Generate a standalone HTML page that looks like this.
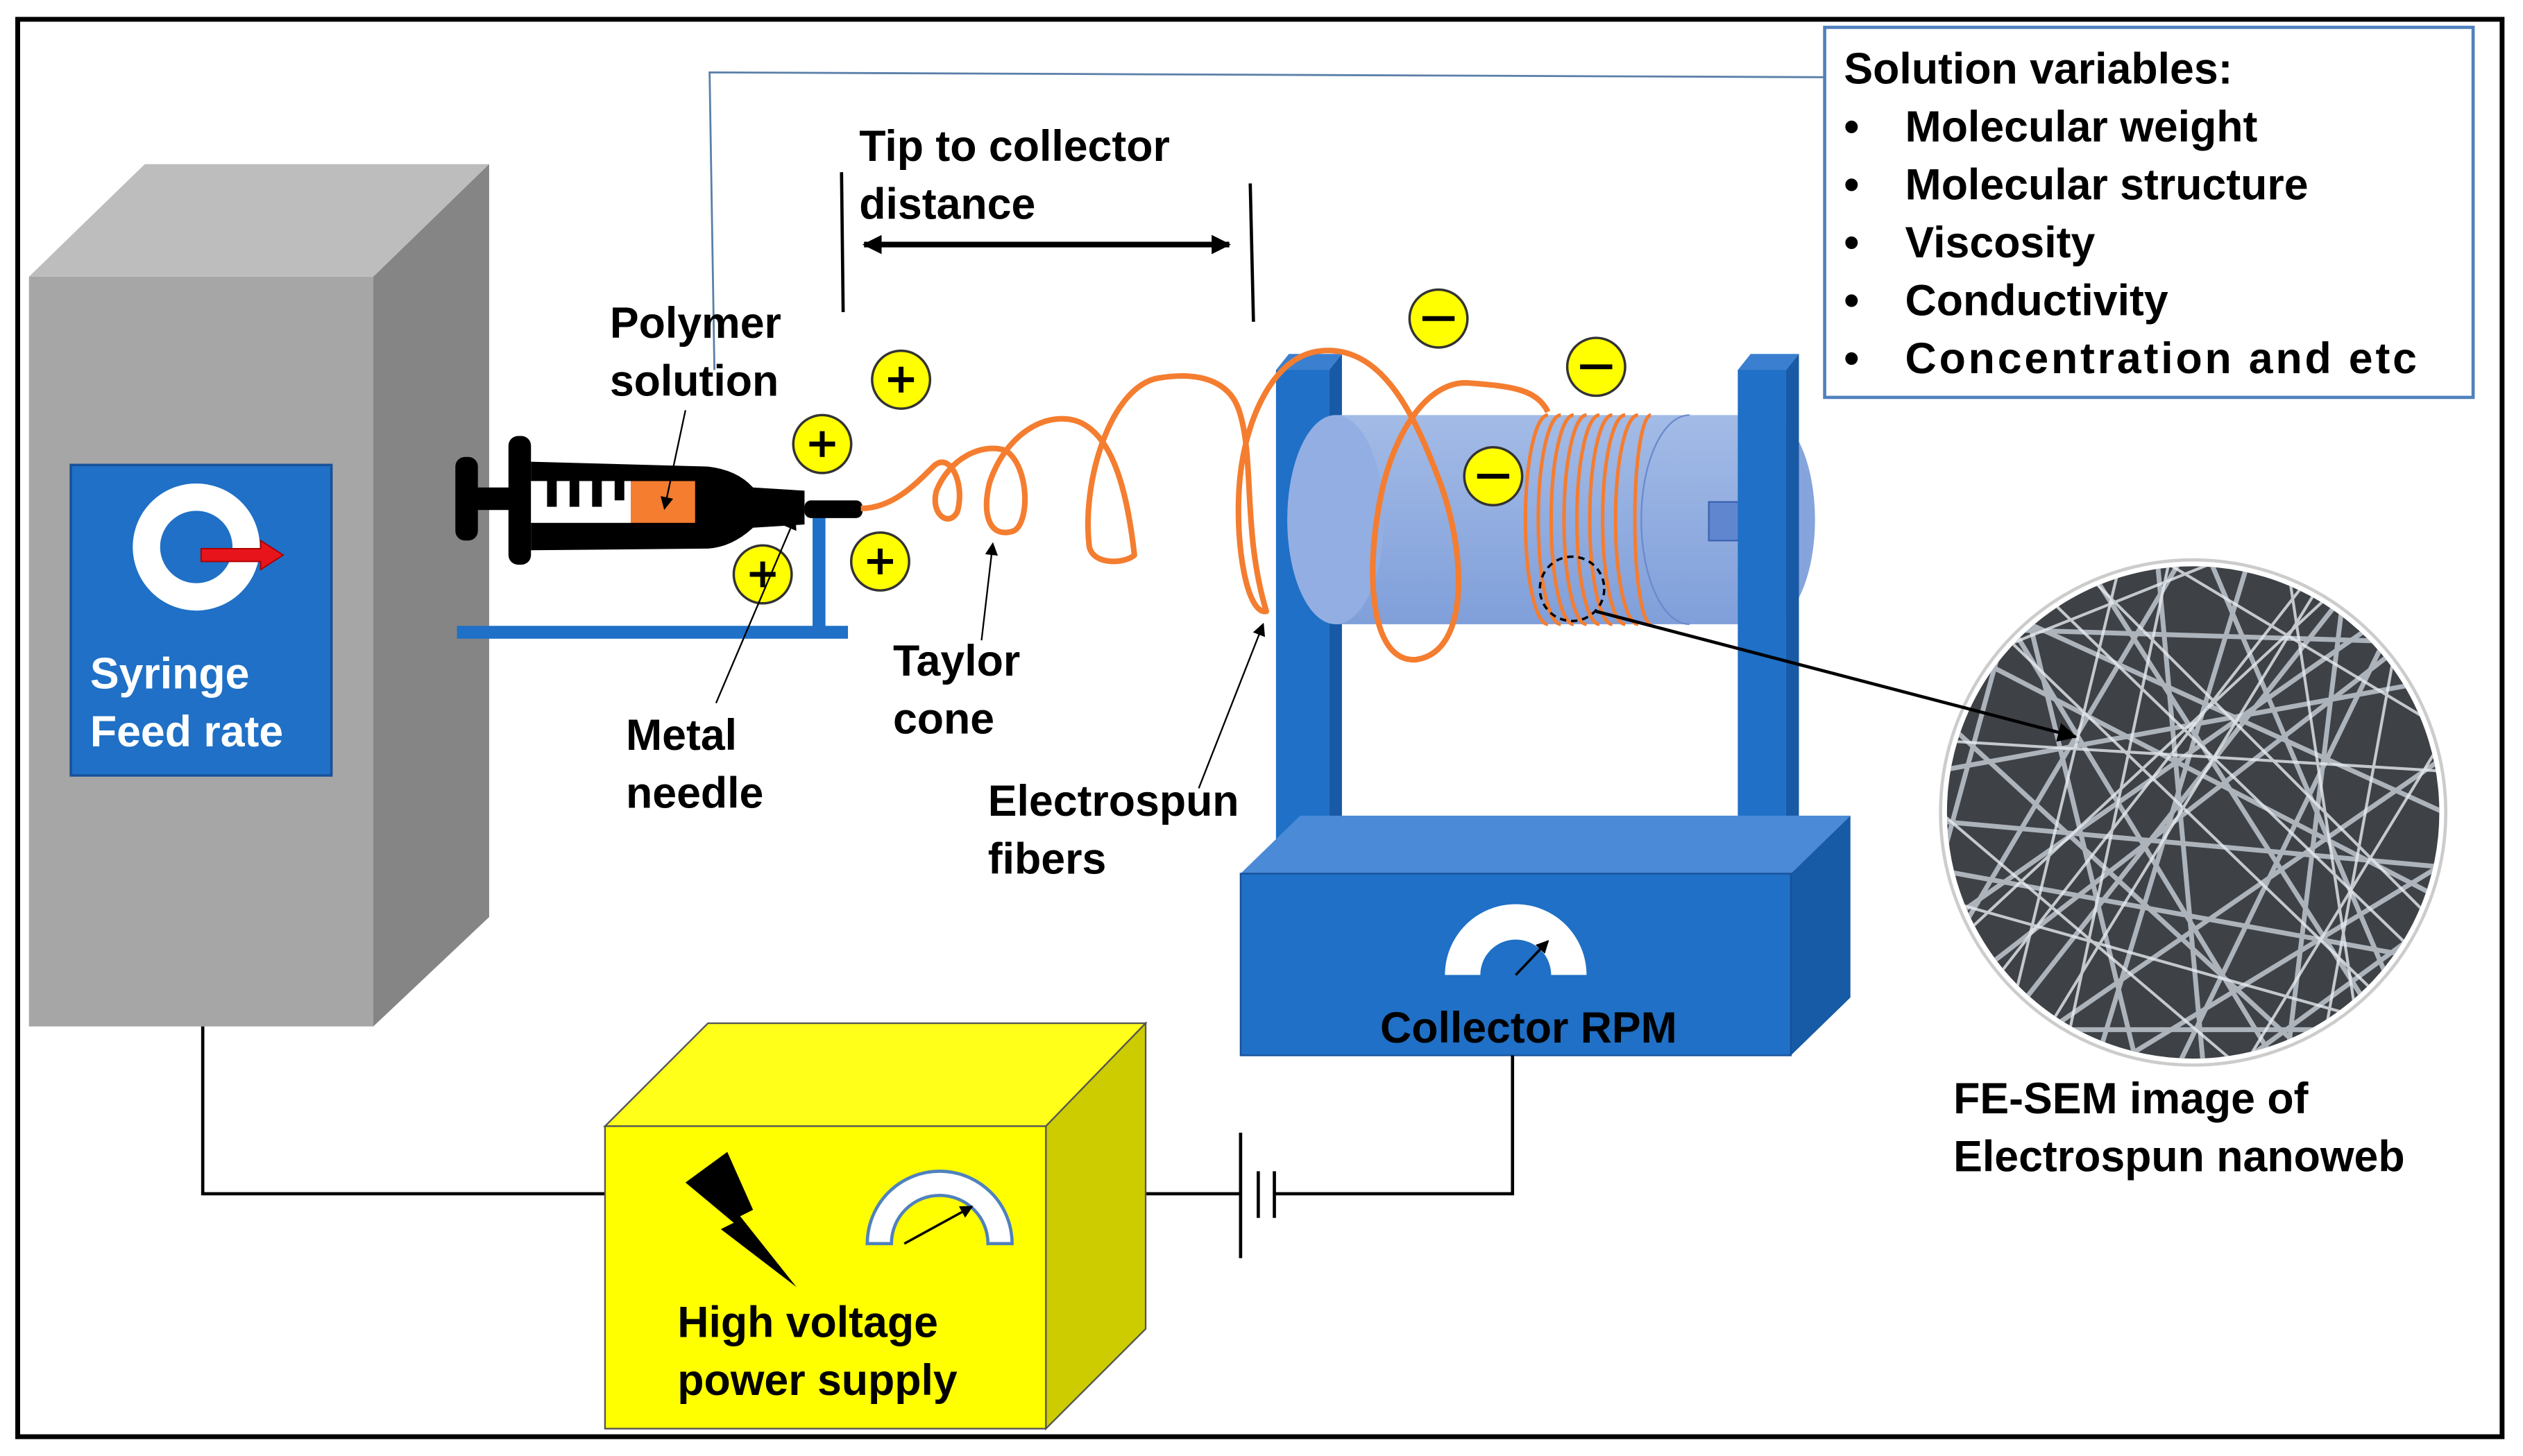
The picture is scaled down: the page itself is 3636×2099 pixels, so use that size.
<!DOCTYPE html>
<html><head><meta charset="utf-8"><style>
html,body{margin:0;padding:0;background:#fff}
svg{display:block}
text{font-family:"Liberation Sans",sans-serif;font-weight:bold}
</style></head><body>
<svg width="3636" height="2099" viewBox="0 0 1568 905" preserveAspectRatio="none" xmlns="http://www.w3.org/2000/svg">
<defs>
<marker id="ah" markerWidth="8" markerHeight="8" refX="7" refY="4" orient="auto" markerUnits="userSpaceOnUse"><path d="M0,0 L8,4 L0,8 Z" fill="#000"/></marker>
<marker id="ah2" markerWidth="12" markerHeight="12" refX="11" refY="6" orient="auto" markerUnits="userSpaceOnUse"><path d="M0,0 L12,6 L0,12 Z" fill="#000"/></marker>
<marker id="ahs" markerWidth="12" markerHeight="12" refX="1" refY="6" orient="auto" markerUnits="userSpaceOnUse"><path d="M12,0 L0,6 L12,12 Z" fill="#000"/></marker>
<clipPath id="sem"><circle cx="1363" cy="505" r="153"/></clipPath>
<linearGradient id="cyl" x1="0" y1="0" x2="0" y2="1"><stop offset="0" stop-color="#a3bbe6"/><stop offset="1" stop-color="#809fda"/></linearGradient>
</defs>
<rect x="11" y="12" width="1544" height="881" fill="#fff" stroke="#000" stroke-width="3"/>

<polyline points="444,230 441,45 1135,48" fill="none" stroke="#5a7fa8" stroke-width="1.2"/>

<!-- gray box -->
<polygon points="18,172 90,102 304,102 232,172" fill="#bdbdbd"/>
<polygon points="232,172 304,102 304,570 232,638" fill="#858585"/>
<rect x="18" y="172" width="214" height="466" fill="#a6a6a6"/>
<rect x="44" y="289" width="162" height="193" fill="#1f70c6" stroke="#17519a" stroke-width="1.5"/>
<circle cx="122" cy="340" r="31" fill="none" stroke="#fff" stroke-width="17"/>
<polygon points="125,341 162,341 162,336 176,345 162,354 162,349 125,349" fill="#e8141c" stroke="#a00" stroke-width="0.8"/>
<text x="56" y="428" font-size="27" fill="#fff">Syringe</text>
<text x="56" y="464" font-size="27" fill="#fff">Feed rate</text>

<!-- solution box -->
<rect x="1134" y="17" width="403" height="230" fill="#fff" stroke="#4f81bd" stroke-width="2"/>
<g font-size="27" fill="#000">
<text x="1146" y="52">Solution variables:</text>
<text x="1146" y="88">•</text><text x="1184" y="88">Molecular weight</text>
<text x="1146" y="124">•</text><text x="1184" y="124">Molecular structure</text>
<text x="1146" y="160">•</text><text x="1184" y="160">Viscosity</text>
<text x="1146" y="196">•</text><text x="1184" y="196">Conductivity</text>
<text x="1146" y="232">•</text><text x="1184" y="232" textLength="318">Concentration and etc</text>
</g>

<!-- distance -->
<text x="534" y="100" font-size="27">Tip to collector</text>
<text x="534" y="136" font-size="27">distance</text>
<line x1="523" y1="107" x2="524" y2="194" stroke="#000" stroke-width="2"/>
<line x1="777" y1="114" x2="779" y2="200" stroke="#000" stroke-width="2"/>
<line x1="537" y1="152" x2="764" y2="152" stroke="#000" stroke-width="3.5" marker-start="url(#ahs)" marker-end="url(#ah2)"/>

<!-- stand -->
<rect x="284" y="389" width="243" height="8" fill="#1f70c6"/>
<rect x="505" y="312" width="8" height="82" fill="#1f70c6"/>

<!-- syringe -->
<rect x="283" y="284" width="14" height="52" rx="6" fill="#000"/>
<rect x="296" y="303" width="22" height="14" fill="#000"/>
<rect x="316" y="271" width="14" height="80" rx="6" fill="#000"/>
<path d="M330,287 L440,290 Q458,292 468,303 L500,305 L500,326 L468,328 Q455,340 440,341 L330,342 Z" fill="#000"/>
<rect x="500" y="311" width="36" height="11" rx="4" fill="#000"/>
<rect x="330" y="299" width="62" height="26" fill="#fff"/>
<rect x="340" y="299" width="6" height="16" fill="#000"/>
<rect x="354" y="299" width="6" height="16" fill="#000"/>
<rect x="368" y="299" width="6" height="16" fill="#000"/>
<rect x="382" y="299" width="6" height="12" fill="#000"/>
<rect x="392" y="299" width="40" height="26" fill="#f47d30"/>

<!-- left post (behind cylinder) -->
<polygon points="793,230 801,220 834,220 826,230" fill="#3a7fd0"/>
<polygon points="826,230 834,220 834,522 826,530" fill="#185aa5"/>
<rect x="793" y="230" width="33" height="300" fill="#1f70c6"/>

<!-- cylinder -->
<ellipse cx="1098" cy="323" rx="30" ry="65" fill="#86a4dc"/>
<rect x="830" y="258" width="268" height="130" fill="url(#cyl)"/>
<ellipse cx="830" cy="323" rx="30" ry="65" fill="#93aee2"/>
<path d="M1050,258 A30,65 0 0,0 1050,388" fill="none" stroke="#6a8acb" stroke-width="1"/>
<rect x="1062" y="312" width="20" height="24" fill="#5f86cf" stroke="#3b64b0" stroke-width="1"/>

<!-- right post (in front) -->
<polygon points="1080,230 1088,220 1118,220 1110,230" fill="#3a7fd0"/>
<polygon points="1110,230 1118,220 1118,522 1110,530" fill="#185aa5"/>
<rect x="1080" y="230" width="30" height="300" fill="#1f70c6"/>

<!-- coils -->
<g fill="none" stroke="#f47d30" stroke-width="2.2">
<path d="M962,258 A14,65 0 0,0 962,388"/>
<path d="M970,258 A14,65 0 0,0 970,388"/>
<path d="M978,258 A14,65 0 0,0 978,388"/>
<path d="M986,258 A14,65 0 0,0 986,388"/>
<path d="M994,258 A14,65 0 0,0 994,388"/>
<path d="M1002,258 A14,65 0 0,0 1002,388"/>
<path d="M1010,258 A14,65 0 0,0 1010,388"/>
<path d="M1018,258 A14,65 0 0,0 1018,388"/>
<path d="M1026,258 A10,65 0 0,0 1026,388"/>
</g>

<!-- fiber -->
<path d="M535,316 C555,316 570,300 580,290 C590,280 600,300 595,318 C590,328 578,320 582,305 C590,285 610,275 625,280 C640,290 640,325 630,330 C615,335 610,320 615,300 C625,270 650,255 670,262 C690,270 700,300 705,345 C700,350 680,352 677,340 C672,300 690,240 720,235 C750,230 765,240 770,255 C780,285 772,330 787,380 C775,382 768,340 770,305 C772,265 790,220 822,218 C860,215 880,260 895,300 C910,340 915,405 880,410 C850,412 848,350 860,300 C870,262 890,237 912,238 C940,240 955,242 962,256" fill="none" stroke="#f47d30" stroke-width="3.5" stroke-linejoin="round"/>

<!-- base -->
<polygon points="771,543 808,507 1150,507 1113,543" fill="#4a8ad6"/>
<polygon points="1113,543 1150,507 1150,620 1113,656" fill="#175aa5"/>
<rect x="771" y="543" width="342" height="113" fill="#1f70c6" stroke="#17519a" stroke-width="1"/>
<path d="M898,606 A44,44 0 0,1 986,606 L964,606 A22,22 0 0,0 920,606 Z" fill="#fff"/>
<line x1="942" y1="606" x2="962" y2="585" stroke="#000" stroke-width="1.5" marker-end="url(#ah)"/>
<text x="950" y="648" font-size="27" text-anchor="middle">Collector RPM</text>

<!-- charges -->
<g stroke="#333" stroke-width="1.5" fill="#ffff00">
<circle cx="560" cy="236" r="18"/><circle cx="511" cy="276" r="18"/><circle cx="547" cy="349" r="18"/><circle cx="474" cy="357" r="18"/>
<circle cx="894" cy="198" r="18"/><circle cx="992" cy="228" r="18"/><circle cx="928" cy="296" r="18"/>
</g>
<g stroke="#000" stroke-width="3">
<path d="M552,236 H568 M560,228 V244"/><path d="M503,276 H519 M511,268 V284"/><path d="M539,349 H555 M547,341 V357"/><path d="M466,357 H482 M474,349 V365"/>
<path d="M884,198 H904"/><path d="M982,228 H1002"/><path d="M918,296 H938"/>
</g>

<!-- labels -->
<g font-size="27">
<text x="379" y="210">Polymer</text><text x="379" y="246">solution</text>
<text x="555" y="420">Taylor</text><text x="555" y="456">cone</text>
<text x="389" y="466">Metal</text><text x="389" y="502">needle</text>
<text x="614" y="507">Electrospun</text><text x="614" y="543">fibers</text>
<text x="1214" y="692">FE-SEM image of</text><text x="1214" y="728">Electrospun nanoweb</text>
</g>
<g stroke="#000" stroke-width="1" marker-end="url(#ah)">
<line x1="426" y1="255" x2="413" y2="316"/>
<line x1="610" y1="398" x2="617" y2="338"/>
<line x1="445" y1="437" x2="494" y2="322"/>
<line x1="745" y1="490" x2="785" y2="388"/>
</g>

<!-- SEM -->
<circle cx="1363" cy="505" r="157" fill="#fff" stroke="#ccc" stroke-width="2"/>
<g clip-path="url(#sem)">
<rect x="1200" y="340" width="330" height="330" fill="#3e4146"/>
<g stroke="#b9c0c8" stroke-width="3" opacity="0.9" fill="none">
<path d="M1210,400 L1520,560"/><path d="M1200,480 L1530,420"/><path d="M1250,340 L1330,670"/><path d="M1400,340 L1300,670"/>
<path d="M1210,620 L1520,380"/><path d="M1200,540 L1530,600"/><path d="M1460,340 L1420,670"/><path d="M1290,340 L1500,670"/>
<path d="M1200,440 L1450,670"/><path d="M1230,670 L1520,470"/><path d="M1340,340 L1370,670"/><path d="M1200,360 L1530,510"/>
<path d="M1480,340 L1220,670"/><path d="M1200,580 L1530,350"/><path d="M1200,510 L1530,540"/><path d="M1370,340 L1510,670"/>
<path d="M1220,340 L1420,670"/><path d="M1200,640 L1530,640"/><path d="M1200,390 L1530,400"/><path d="M1510,340 L1350,670"/>
<path d="M1260,340 L1200,560"/><path d="M1530,560 L1380,670"/><path d="M1200,610 L1360,340"/><path d="M1300,670 L1530,530"/>
</g>
<g stroke="#e6ebf0" stroke-width="1.8" opacity="0.8" fill="none">
<path d="M1230,380 L1500,640"/><path d="M1260,660 L1450,350"/><path d="M1200,460 L1530,480"/><path d="M1320,340 L1240,670"/>
<path d="M1420,340 L1470,670"/><path d="M1200,600 L1480,340"/><path d="M1210,560 L1530,650"/><path d="M1280,340 L1530,590"/>
<path d="M1200,420 L1400,340"/><path d="M1390,670 L1530,440"/><path d="M1350,340 L1280,670"/><path d="M1440,670 L1500,340"/>
<path d="M1200,500 L1400,670"/><path d="M1330,340 L1530,460"/><path d="M1200,660 L1450,340"/><path d="M1240,340 L1530,620"/>
</g>
</g>

<!-- dashed circle + arrow -->
<circle cx="977" cy="366" r="20" fill="none" stroke="#000" stroke-width="1.5" stroke-dasharray="4,3"/>
<line x1="992" y1="380" x2="1290" y2="458" stroke="#000" stroke-width="2" marker-end="url(#ah2)"/>

<!-- circuit -->
<polyline points="126,638 126,742 376,742" fill="none" stroke="#000" stroke-width="2"/>
<line x1="712" y1="742" x2="771" y2="742" stroke="#000" stroke-width="2"/>
<line x1="771" y1="704" x2="771" y2="782" stroke="#000" stroke-width="2"/>
<line x1="782" y1="728" x2="782" y2="757" stroke="#000" stroke-width="2"/>
<line x1="792" y1="728" x2="792" y2="757" stroke="#000" stroke-width="2"/>
<polyline points="792,742 940,742 940,656" fill="none" stroke="#000" stroke-width="2"/>

<!-- yellow box -->
<polygon points="376,700 440,636 712,636 650,700" fill="#ffff1a" stroke="#555" stroke-width="1"/>
<polygon points="650,700 712,636 712,826 650,888" fill="#cccc00" stroke="#555" stroke-width="1"/>
<rect x="376" y="700" width="274" height="188" fill="#ffff00" stroke="#555" stroke-width="1"/>
<polygon points="426,735 452,716 468,752 460,756 495,800 448,764 456,760" fill="#000"/>
<path d="M539,773 A45,45 0 0,1 629,773 L614,773 A30,30 0 0,0 554,773 Z" fill="#fff" stroke="#4f81bd" stroke-width="2"/>
<line x1="562" y1="773" x2="604" y2="750" stroke="#000" stroke-width="1.5" marker-end="url(#ah)"/>
<text x="421" y="831" font-size="27">High voltage</text>
<text x="421" y="867" font-size="27">power supply</text>
</svg>
</body></html>
